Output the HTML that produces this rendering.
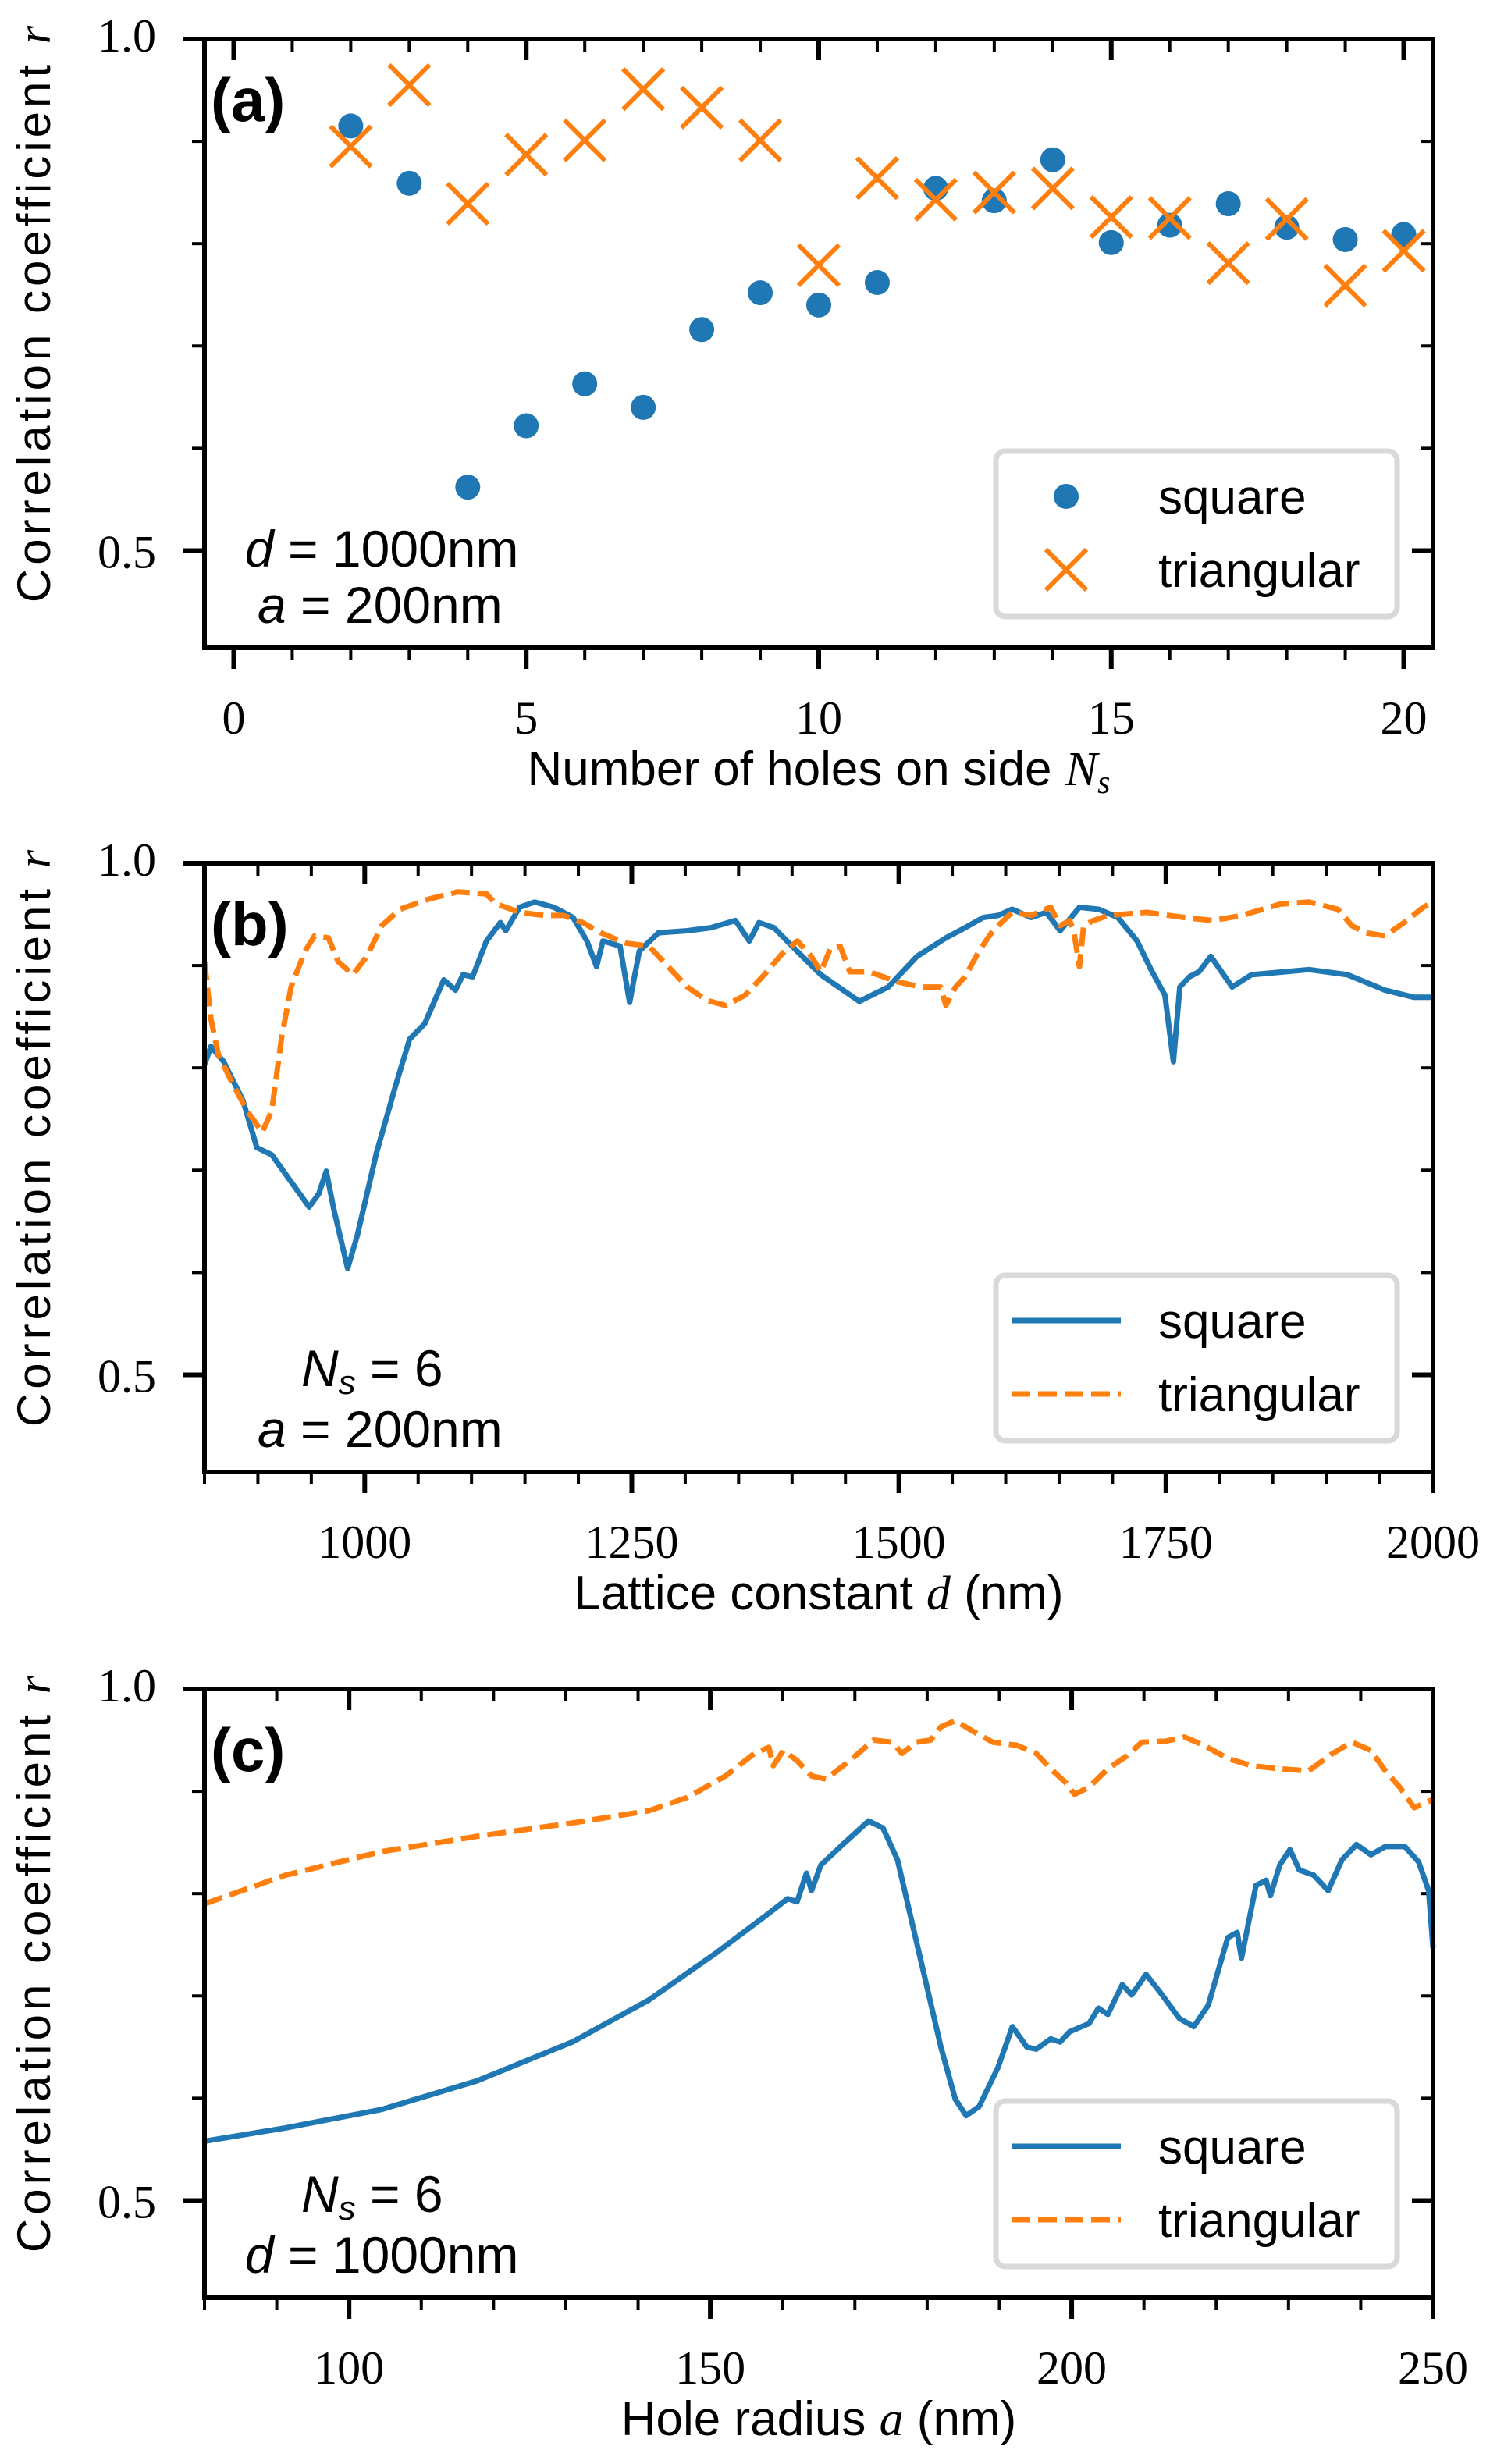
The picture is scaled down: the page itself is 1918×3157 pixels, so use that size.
<!DOCTYPE html>
<html><head><meta charset="utf-8"><style>
html,body{margin:0;padding:0;background:#fff;}
svg{display:block;}
text{font-family:"Liberation Sans",sans-serif;}
.tk{font-family:"Liberation Serif",serif;font-size:60px;}
</style></head><body>
<svg id="fig" width="1918" height="3157" viewBox="0 0 1918 3157" xmlns="http://www.w3.org/2000/svg"></svg>
<script>
// Panel (a) data
const aN = [2,3,4,5,6,7,8,9,10,11,12,13,14,15,16,17,18,19,20];
const aSquare = [0.915,0.859,0.562,0.622,0.663,0.640,0.716,0.752,0.740,0.762,0.854,0.842,0.882,0.801,0.818,0.839,0.816,0.804,0.809];
const aTri = [0.895,0.955,0.839,0.887,0.901,0.951,0.933,0.901,0.779,0.864,0.843,0.850,0.854,0.826,0.825,0.781,0.824,0.759,0.793];
const aXTicks = [0,5,10,15,20];
// Panel (b) data
const bSqD = [850,856,868,886,899,913,948,957,964,971,984,993,1011,1029,1042,1056,1074,1085,1092,1101,1114,1127,1132,1145,1159,1177,1195,1208,1217,1223,1239,1248,1257,1275,1302,1324,1347,1360,1369,1383,1400,1427,1463,1490,1517,1544,1562,1579,1593,1606,1624,1638,1651,1669,1687,1705,1723,1736,1749,1757,1763,1772,1781,1792,1812,1830,1884,1920,1955,1982,2000];
const bSqR = [0.803,0.821,0.806,0.768,0.722,0.715,0.664,0.677,0.699,0.662,0.604,0.636,0.717,0.783,0.828,0.843,0.886,0.876,0.891,0.889,0.924,0.942,0.934,0.957,0.962,0.957,0.947,0.924,0.899,0.924,0.919,0.864,0.914,0.932,0.934,0.937,0.944,0.924,0.942,0.937,0.919,0.891,0.865,0.879,0.909,0.927,0.937,0.947,0.949,0.955,0.947,0.952,0.934,0.957,0.955,0.947,0.924,0.896,0.871,0.806,0.879,0.889,0.894,0.909,0.879,0.891,0.896,0.891,0.876,0.869,0.869];
const bTrD = [850,856,863,877,890,904,913,922,931,944,953,966,975,989,1002,1016,1033,1060,1087,1114,1123,1132,1145,1168,1186,1204,1221,1244,1266,1284,1302,1320,1338,1356,1374,1391,1405,1418,1427,1436,1445,1454,1472,1499,1521,1539,1544,1553,1562,1575,1588,1606,1624,1642,1651,1660,1664,1669,1673,1682,1696,1732,1767,1794,1821,1857,1884,1911,1924,1937,1955,1973,1991,2000];
const bTrR = [0.904,0.848,0.813,0.783,0.758,0.737,0.758,0.828,0.879,0.914,0.929,0.927,0.904,0.891,0.909,0.939,0.955,0.965,0.972,0.970,0.960,0.957,0.952,0.949,0.949,0.942,0.932,0.922,0.919,0.899,0.879,0.866,0.861,0.871,0.891,0.912,0.924,0.909,0.894,0.917,0.919,0.894,0.894,0.884,0.879,0.879,0.861,0.879,0.889,0.914,0.934,0.952,0.949,0.957,0.939,0.944,0.932,0.899,0.939,0.944,0.949,0.952,0.947,0.944,0.949,0.960,0.962,0.955,0.939,0.932,0.929,0.942,0.957,0.962];
const bXTicks = [1000,1250,1500,1750,2000];
// Panel (c) data
const cSqA = [80,91.2,104.5,117.7,130.9,141.5,150.8,157.4,160.7,162,163.3,164,165.3,168,171.9,173.9,175.9,177.9,179.9,181.9,183.9,185.4,187.2,189.8,191.8,193.8,195.1,197.1,198.4,199.7,202.4,203.7,205,207,208.3,210.3,212.3,214.9,216.9,218.9,221.6,222.9,223.5,225.5,226.9,227.5,228.8,230.2,231.5,233.5,235.5,237.4,239.4,241.4,243.4,246.1,248,249.4,250];
const cSqR = [0.558,0.571,0.589,0.617,0.655,0.696,0.742,0.777,0.795,0.792,0.820,0.803,0.828,0.846,0.871,0.864,0.833,0.772,0.711,0.650,0.599,0.583,0.592,0.630,0.670,0.650,0.648,0.658,0.655,0.665,0.673,0.688,0.682,0.711,0.701,0.721,0.703,0.678,0.670,0.691,0.757,0.762,0.737,0.808,0.813,0.798,0.828,0.843,0.823,0.818,0.803,0.833,0.848,0.838,0.846,0.846,0.831,0.803,0.747];
const cTrA = [80,91.2,104.5,117.7,130.9,141.5,146.8,152.1,156.1,158.1,158.7,160.1,162,164,166,169.3,172.6,175.2,176.5,178.5,180.5,181.9,183.9,186.5,189.1,192.4,195.1,197.1,199.1,200.4,202.4,205,207.7,209.7,213,215.6,218.3,221.6,224.9,228.8,232.8,236.1,238.8,241.4,243.4,245.4,247.4,250];
const cTrR = [0.790,0.818,0.841,0.856,0.869,0.881,0.894,0.915,0.937,0.943,0.925,0.940,0.930,0.915,0.912,0.930,0.950,0.948,0.937,0.948,0.950,0.963,0.969,0.958,0.948,0.945,0.937,0.922,0.909,0.897,0.904,0.922,0.935,0.948,0.949,0.953,0.945,0.932,0.925,0.922,0.920,0.937,0.948,0.940,0.920,0.904,0.884,0.892];
const cXTicks = [100,150,200,250];

const NS="http://www.w3.org/2000/svg";
const fig=document.getElementById('fig');
const BLUE="#1f77b4", ORANGE="#ff7f0e";
function mk(tag,attrs,parent){const e=document.createElementNS(NS,tag);for(const k in attrs)e.setAttribute(k,attrs[k]);(parent||fig).appendChild(e);return e;}

const L=262,R=1836,H=780;
function panel(top,xmin,xmax,minorStep,majorTicks,xlabelHTML,letter,name){
  const g=mk('g',{});
  
  
  const sx=v=>L+(v-xmin)/(xmax-xmin)*(R-L);
  const ymin=0.405;
  const sy=v=>top+(1.0-v)/(1.0-ymin)*H;
  const bot=top+H;
  for(let k=5;k<=10;k++){const v=k/10;const y=sy(v);const maj=(k==5||k==10);const len=maj?27:16;const w=maj?6:4;
    mk('line',{x1:L-len,x2:L,y1:y,y2:y,stroke:'#000','stroke-width':w},g);
    mk('line',{x1:R-len,x2:R,y1:y,y2:y,stroke:'#000','stroke-width':w},g);}
  const start=Math.ceil(xmin/minorStep)*minorStep;
  for(let v=start;v<=xmax+1e-9;v+=minorStep){const x=sx(v);const maj=majorTicks.some(t=>Math.abs(t-v)<1e-6);const len=maj?27:16;const w=maj?6:4;
    mk('line',{x1:x,x2:x,y1:bot,y2:bot+len,stroke:'#000','stroke-width':w},g);
    mk('line',{x1:x,x2:x,y1:top,y2:top+len,stroke:'#000','stroke-width':w},g);}
  const yl1=mk('text',{x:200,y:sy(1.0)+16,'text-anchor':'end',class:'tk'},g);yl1.textContent='1.0';
  
  const yl2=mk('text',{x:200,y:sy(0.5)+22,'text-anchor':'end',class:'tk'},g);yl2.textContent='0.5';
  
  majorTicks.forEach(t=>{const tl=mk('text',{x:sx(t),y:bot+110,'text-anchor':'middle',class:'tk'},g);tl.textContent=String(t);
    });
  const xl=mk('text',{x:(L+R)/2,y:bot+176,'text-anchor':'middle','font-size':62},g);xl.innerHTML=xlabelHTML;
  
  const cy=top+H/2-40;
  const yt=mk('text',{x:0,y:0,'text-anchor':'middle','font-size':60,'letter-spacing':'5',transform:`translate(64,${cy}) rotate(-90)`},g);
  yt.innerHTML='Correlation coefficient <tspan font-family="Liberation Serif" font-style="italic">r</tspan>';
  
  const lt=mk('text',{x:270,y:top+105,'font-size':78,'font-weight':'bold'},g);lt.textContent=letter;
  
  return {g,sx,sy,top,bot};
}
function frame(p){mk('rect',{x:L,y:p.top,width:R-L,height:H,fill:'none',stroke:'#000','stroke-width':6},p.g);}
function line(p,xs,ys,color,dash,name){
  let d='';xs.forEach((x,i)=>{d+=(i?'L':'M')+p.sx(x).toFixed(1)+','+p.sy(ys[i]).toFixed(1);});
  const e=mk('path',{d:d,fill:'none',stroke:color,'stroke-width':7,'stroke-linejoin':'round'},p.g);
  if(dash)e.setAttribute('stroke-dasharray','24,10');
  
  
}
function legend(p,markers){
  const y0=p.top+528;
  const lg=mk('g',{},p.g);
  
  
  mk('rect',{x:1276,y:y0,width:514,height:212,rx:12,fill:'#fff','fill-opacity':0.8,stroke:'#d9d9d9','stroke-width':7},lg);
  const rows=[['square',BLUE,y0+58],['triangular',ORANGE,y0+152]];
  rows.forEach((r,i)=>{
    if(markers){
      if(i==0)mk('circle',{cx:1366,cy:r[2],r:16,fill:BLUE},lg);
      else{mk('path',{d:`M1340,${r[2]-26}L1392,${r[2]+26}M1340,${r[2]+26}L1392,${r[2]-26}`,stroke:ORANGE,'stroke-width':6},lg);}
    }else{
      const e=mk('line',{x1:1296,x2:1436,y1:r[2],y2:r[2],stroke:r[1],'stroke-width':7},lg);
      if(i==1)e.setAttribute('stroke-dasharray','24,10');
    }
    const t=mk('text',{x:1484,y:r[2]+22,'font-size':62},lg);t.textContent=r[0];
    
    
  });
}
function note(p,x,y,html){const t=mk('text',{x:x,y:y,'font-size':66,'font-family':'Liberation Serif'},p.g);t.innerHTML=html;
  }

const TA=50, TB=1106, TC=2164;
const pa=panel(TA,-0.5,20.5,1,aXTicks,'Number of holes on side <tspan font-family="Liberation Serif" font-style="italic">N</tspan><tspan font-family="Liberation Serif" font-style="italic" font-size="42" dy="10">s</tspan>','(a)','panel-a');
aN.forEach((n,i)=>{const c=mk('circle',{cx:pa.sx(n),cy:pa.sy(aSquare[i]),r:16,fill:BLUE},pa.g);
  });
aN.forEach((n,i)=>{const x=pa.sx(n),y=pa.sy(aTri[i]);
  const c=mk('path',{d:`M${x-26},${y-26}L${x+26},${y+26}M${x-26},${y+26}L${x+26},${y-26}`,stroke:ORANGE,'stroke-width':6},pa.g);
  });
frame(pa);legend(pa,true);
note(pa,314,TA+676,'<tspan font-style="italic">d</tspan> = 1000nm');
note(pa,330,TA+748,'<tspan font-style="italic">a</tspan> = 200nm');

const pb=panel(TB,850,2000,50,bXTicks,'Lattice constant <tspan font-family="Liberation Serif" font-style="italic">d</tspan> (nm)','(b)','panel-b');
line(pb,bSqD,bSqR,BLUE,false,'square-line');
line(pb,bTrD,bTrR,ORANGE,true,'triangular-line');
frame(pb);legend(pb,false);
note(pb,386,TB+670,'<tspan font-style="italic">N</tspan><tspan font-style="italic" font-size="44" dy="10">s</tspan><tspan dy="-10"> = 6</tspan>');
note(pb,330,TB+748,'<tspan font-style="italic">a</tspan> = 200nm');

const pc=panel(TC,80,250,10,cXTicks,'Hole radius <tspan font-family="Liberation Serif" font-style="italic">a</tspan> (nm)','(c)','panel-c');
line(pc,cSqA,cSqR,BLUE,false,'square-line');
line(pc,cTrA,cTrR,ORANGE,true,'triangular-line');
frame(pc);legend(pc,false);
note(pc,386,TC+670,'<tspan font-style="italic">N</tspan><tspan font-style="italic" font-size="44" dy="10">s</tspan><tspan dy="-10"> = 6</tspan>');
note(pc,314,TC+748,'<tspan font-style="italic">d</tspan> = 1000nm');
</script>
</body></html>
